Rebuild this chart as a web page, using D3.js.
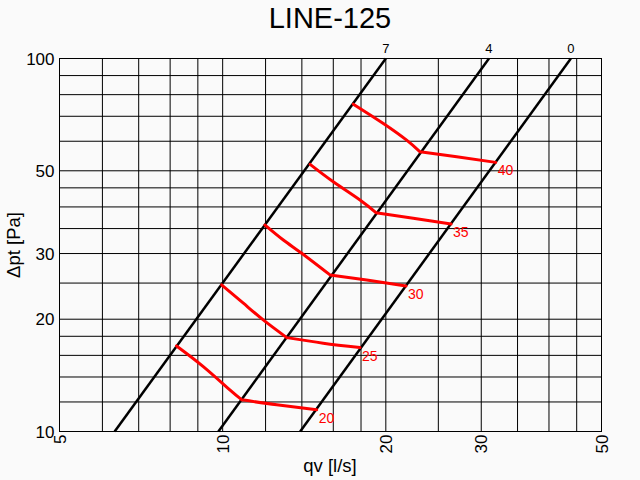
<!DOCTYPE html>
<html>
<head>
<meta charset="utf-8">
<script src="https://cdn.jsdelivr.net/npm/d3@7"></script>
<style>
  body { margin: 0; background: #fafafa; }
  svg { display: block; font-family: Arial, "Liberation Sans", sans-serif; }
</style>
</head>
<body>
<script>
// Data
//////////////////////////////////////////////////////////////////////
var title = "LINE-125";
var xTicks = [5, 10, 20, 30, 50];
var yTicks = [10, 20, 30, 50, 100];
var xGrid = [6, 7, 8, 9, 10, 12, 14, 16, 18, 20, 25, 30, 35, 40, 45];
var yGrid = [12, 14, 16, 18, 20, 25, 30, 35, 40, 45, 50, 60, 70, 80, 90];

// damper position lines (black), q at dp = 10 and dp = 100
var lineLabels = ["7", "4", "0"];
var lineQ = [[6.32, 20.0], [9.82, 31.0], [13.9, 43.9]];
var lineDp = [10, 100];

// sound level curves (red); the 4th point of each lies on line "4"
var curveLabels = ["20", "25", "30", "35", "40"];
var curveQ = [
  [8.22, 9.21, 10.31, 10.85, 12.58, 14.91],
  [9.96, 10.92, 11.88, 13.13, 15.33, 17.92],
  [11.97, 12.94, 13.99, 15.78, 18.44, 21.79],
  [14.5, 16.0, 17.92, 19.18, 22.47, 26.39],
  [17.42, 19.79, 21.85, 23.13, 27.03, 31.9]
];
var curveDp = [
  [16.96, 14.93, 12.93, 12.16, 11.79, 11.43],
  [24.71, 22.08, 19.91, 17.85, 17.25, 16.79],
  [35.78, 32.62, 30.05, 26.29, 25.49, 24.56],
  [52.02, 46.72, 41.74, 38.6, 37.29, 36.0],
  [75.44, 66.97, 60.42, 56.22, 54.5, 52.66]
];

// Layout
//////////////////////////////////////////////////////////////////////
var width = 640, height = 480;
var pLeft = 59.5, pRight = 601.5, pTop = 58.5, pBottom = 431.5;

var x = d3.scaleLog().domain([5, 50]).range([pLeft, pRight]);
var y = d3.scaleLog().domain([10, 100]).range([pBottom, pTop]);

var svg = d3.select("body").append("svg")
  .attr("width", width)
  .attr("height", height);

svg.append("rect")
  .attr("width", width).attr("height", height)
  .attr("fill", "#fafafa");

// Grid
var grid = svg.append("g").attr("stroke", "#000").attr("stroke-width", 1);
grid.selectAll("line.v")
  .data(xGrid)
  .join("line")
  .attr("class", "v")
  .attr("x1", d => x(d)).attr("x2", d => x(d))
  .attr("y1", pTop).attr("y2", pBottom);
grid.selectAll("line.h")
  .data(yGrid)
  .join("line")
  .attr("class", "h")
  .attr("y1", d => y(d)).attr("y2", d => y(d))
  .attr("x1", pLeft).attr("x2", pRight);

svg.append("rect")
  .attr("x", pLeft).attr("y", pTop)
  .attr("width", pRight - pLeft).attr("height", pBottom - pTop)
  .attr("fill", "none").attr("stroke", "#000");

// Tick labels
svg.append("g")
  .attr("font-size", 17)
  .selectAll("text")
  .data(yTicks)
  .join("text")
  .attr("x", pLeft - 5)
  .attr("y", d => y(d))
  .attr("dy", "0.36em")
  .attr("text-anchor", "end")
  .text(d => d);

svg.append("g")
  .attr("font-size", 17)
  .selectAll("text")
  .data(xTicks)
  .join("text")
  .attr("transform", d => `translate(${x(d)},${pBottom + 3}) rotate(-90)`)
  .attr("dy", "0.36em")
  .attr("text-anchor", "end")
  .text(d => d);

// Axis titles
svg.append("text")
  .attr("x", 330).attr("y", 28)
  .attr("text-anchor", "middle")
  .attr("font-size", 29)
  .text(title);

svg.append("text")
  .attr("x", 330).attr("y", 472)
  .attr("text-anchor", "middle")
  .attr("font-size", 18.5)
  .text("qv [l/s]");

svg.append("text")
  .attr("transform", `translate(20,${(pTop + pBottom) / 2}) rotate(-90)`)
  .attr("text-anchor", "middle")
  .attr("font-size", 18.5)
  .text("\u0394pt [Pa]");

// Black lines
var plot = svg.append("g");
var straight = d3.line().x(d => x(d[0])).y(d => y(d[1]));

plot.selectAll("path.pos")
  .data(lineQ)
  .join("path")
  .attr("class", "pos")
  .attr("fill", "none")
  .attr("stroke", "#000")
  .attr("stroke-width", 2.5)
  .attr("d", q => straight(q.map((v, i) => [v, lineDp[i]])));

plot.selectAll("text.pos")
  .data(lineLabels)
  .join("text")
  .attr("class", "pos")
  .attr("x", (d, i) => x(lineQ[i][1]))
  .attr("y", pTop - 6)
  .attr("text-anchor", "middle")
  .attr("font-size", 13)
  .text(d => d);

// Red curves: smooth piece to the kink on line "4", then smooth piece to line "0"
var smooth = d3.line()
  .curve(d3.curveNatural)
  .x(d => x(d[0])).y(d => y(d[1]));
var kink = 3;

plot.selectAll("path.snd")
  .data(curveQ)
  .join("path")
  .attr("class", "snd")
  .attr("fill", "none")
  .attr("stroke", "#ff0000")
  .attr("stroke-width", 3)
  .attr("stroke-linecap", "round")
  .attr("d", (q, k) => {
    var pts = q.map((v, i) => [v, curveDp[k][i]]);
    return smooth(pts.slice(0, kink + 1)) + smooth(pts.slice(kink));
  });

plot.selectAll("text.snd")
  .data(curveLabels)
  .join("text")
  .attr("class", "snd")
  .attr("x", (d, k) => x(curveQ[k][curveQ[k].length - 1]) + 2)
  .attr("y", (d, k) => y(curveDp[k][curveDp[k].length - 1]) + 13)
  .attr("font-size", 14)
  .attr("fill", "#ff0000")
  .text(d => d);
</script>
</body>
</html>
